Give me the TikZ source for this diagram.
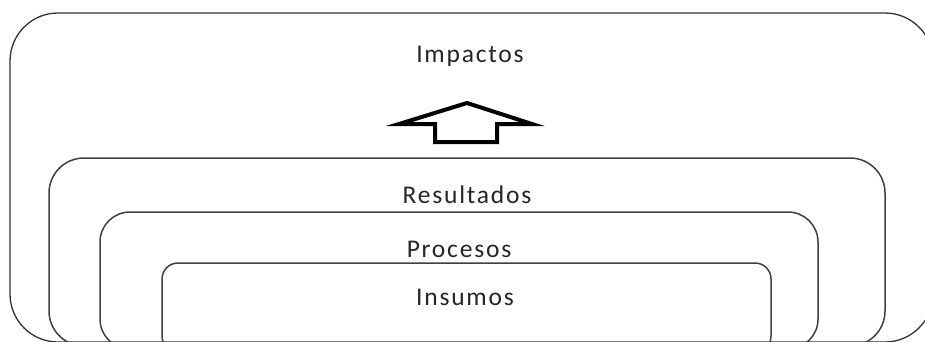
\documentclass[tikz,border=0pt]{standalone}
\usepackage{fontspec}
\setmainfont{Carlito}
\newfontfamily\lblfont[LetterSpace=7]{Carlito}
\begin{document}
\begin{tikzpicture}
  [x=1pt,y=-1pt,every node/.style={anchor=base,inner sep=0pt,text=black!85,font=\lblfont\fontsize{25.5}{30}\selectfont}]
  \tikzstyle{level} = [draw=black!75,line width=1.5pt]
  \tikzstyle{outer} = [draw=black!80,line width=1.3pt]
  \useasboundingbox (0,0) rectangle (925,341);
  \clip (0,0) rectangle (925,341);
  % nested levels, open at the bottom edge
  \draw[outer,rounded corners=48pt] (10,13) rectangle (933,342);
  \foreach \x/\y/\xx/\yy/\r in {49/158/885/346/35,100/212/818/349/30,162/263/771/352/16}
    \draw[level,rounded corners=\r pt] (\x,\y) rectangle (\xx,\yy);
  \node (impactos)   at (470,62)  {Impactos};
  \node (resultados) at (467,203) {Resultados};
  \node (procesos)   at (459,257) {Procesos};
  \node (insumos)    at (465,305) {Insumos};
  % block arrow
  \draw[line width=4pt,line join=miter,miter limit=20]
    (467,103) -- (532,124) -- (497,124) -- (497,142) -- (435,142) -- (435,124) -- (399,124) -- cycle;
\end{tikzpicture}
\end{document}
